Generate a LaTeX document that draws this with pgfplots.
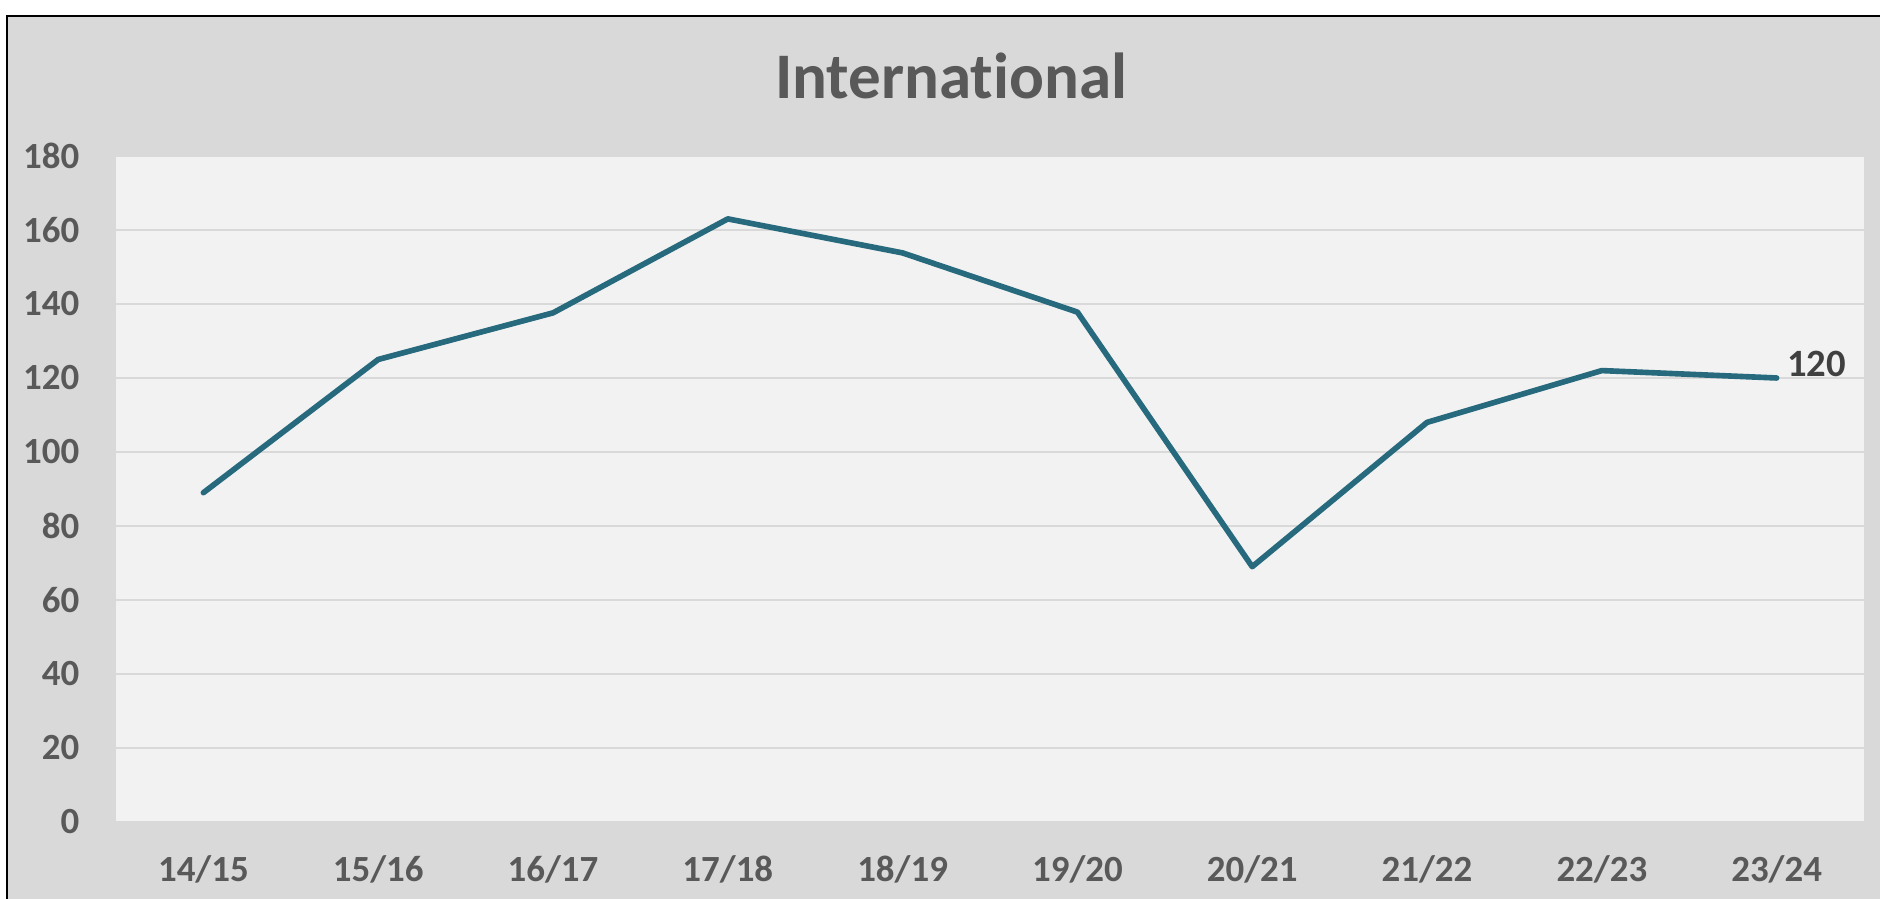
\documentclass[border=0pt]{standalone}
\usepackage{fontspec}
\setmainfont{Carlito}[Ligatures={NoCommon,NoRare}]
\usepackage{pgfplots}
\pgfplotsset{compat=1.18}
\definecolor{outerbg}{HTML}{D9D9D9}
\definecolor{plotbg}{HTML}{F2F2F2}
\definecolor{gridc}{HTML}{D9D9D9}
\definecolor{ticktxt}{HTML}{595959}
\definecolor{lbltxt}{HTML}{404040}
\definecolor{linec}{HTML}{27697D}
\begin{document}
\begin{tikzpicture}
\fill[white] (0,0) rectangle (18.8,8.99);
\fill[outerbg] (0.07,0) rectangle (18.8,8.83);
\draw[black, line width=0.6pt] (0.07,0) -- (0.07,8.83) -- (18.8,8.83);
\node[anchor=base, text=ticktxt, font=\fontsize{18.5}{22}\selectfont\bfseries, inner sep=0pt] at (9.51,8.00) {International};
\begin{axis}[
  at={(1.16cm,0.77cm)}, anchor=south west,
  scale only axis, width=17.48cm, height=6.66cm,
  xmin=-0.5, xmax=9.5, ymin=0, ymax=180,
  xtick={0,...,9},
  xticklabels={14/15,15/16,16/17,17/18,18/19,19/20,20/21,21/22,22/23,23/24},
  ytick={0,20,...,180},
  /pgf/number format/assume math mode=true,
  axis background/.style={fill=plotbg},
  axis line style={draw=none},
  major tick length=0pt,
  ymajorgrids,
  grid style={gridc, line width=0.5pt},
  yticklabel style={inner sep=0pt, anchor=east, xshift=-0.36cm, text=ticktxt, font=\fontsize{10.5}{12}\selectfont\bfseries},
  xticklabel style={inner sep=0pt, anchor=base, yshift=-0.60cm, text=ticktxt, font=\fontsize{10.5}{12}\selectfont\bfseries},
  clip=false,
]
\addplot[linec, line width=1.6pt, line join=round, line cap=round, mark=none] coordinates {
  (0,89) (1,125) (2,137.6) (3,163) (4,153.8) (5,137.8) (6,69) (7,108) (8,122) (9,120)
};
\node[anchor=base west, inner sep=0pt, text=lbltxt, font=\fontsize{11}{13}\selectfont\bfseries, xshift=0.10cm, yshift=0.01cm] at (axis cs:9,120) {120};
\end{axis}
\pgfresetboundingbox
\useasboundingbox (0,0) rectangle (18.8,8.99);
\end{tikzpicture}
\end{document}
